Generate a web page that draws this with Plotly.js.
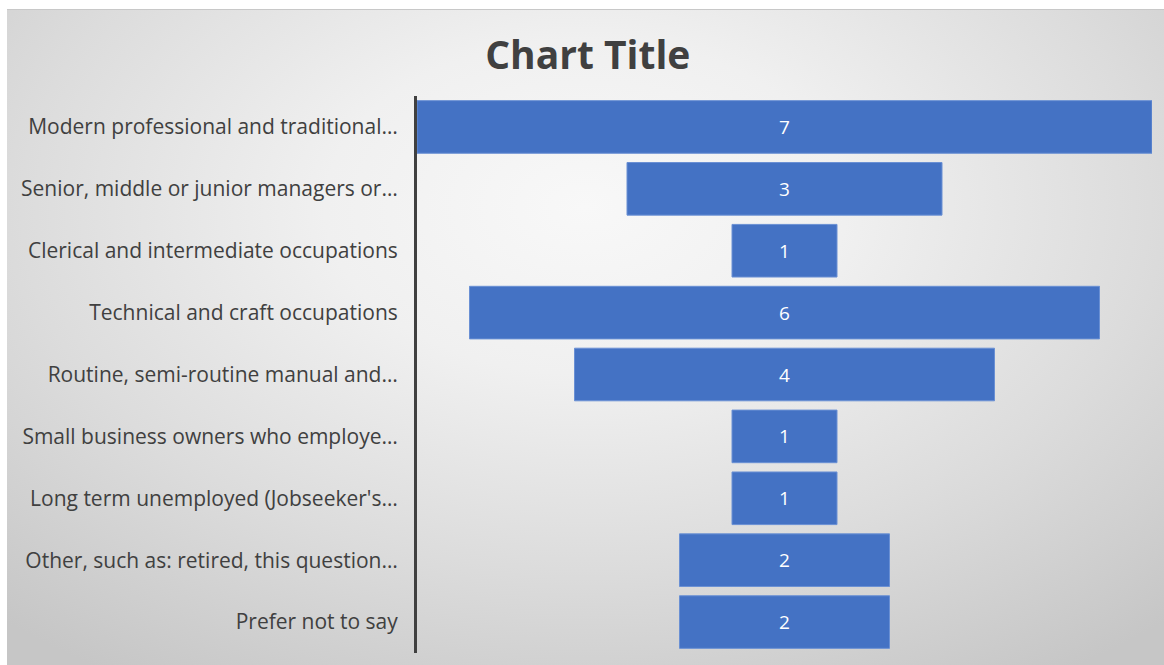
<!DOCTYPE html>
<html>
<head>
<meta charset="utf-8">
<script src="https://cdn.plot.ly/plotly-3.0.1.min.js"></script>
<style>
  html, body { margin: 0; padding: 0; background: #ffffff; }
  #wrap { position: relative; width: 1164px; height: 665px; overflow: hidden; }
  #bg { position: absolute; left: 7px; top: 9px; width: 1157px; height: 656px;
        border-top: 1px solid #c8c8c8;
        background: radial-gradient(ellipse 75% 85% at 50% 30%, #f8f8f8 0%, #f0f0f0 30%, #dcdcdc 65%, #c6c6c6 100%); }
  #chart { position: absolute; left: 0; top: 0; width: 1164px; height: 665px; }
</style>
</head>
<body>
<div id="wrap">
  <div id="bg"></div>
  <div id="chart"></div>
</div>
<script>
const categories = [
  "Modern professional and traditional…",
  "Senior, middle or junior managers or…",
  "Clerical and intermediate occupations",
  "Technical and craft occupations",
  "Routine, semi-routine manual and…",
  "Small business owners who employe…",
  "Long term unemployed (Jobseeker's…",
  "Other, such as: retired, this question…",
  "Prefer not to say"
];
const values = [7, 3, 1, 6, 4, 1, 1, 2, 2];

const trace = {
  type: "funnel",
  y: categories,
  x: values,
  orientation: "h",
  textinfo: "value",
  textposition: "inside",
  insidetextanchor: "middle",
  insidetextfont: { color: "#ffffff", size: 19, family: "Open Sans, Noto Sans, sans-serif" },
  marker: { color: "#4472C4", line: { color: "#6a90d4", width: 1 } },
  connector: { visible: false },
  hoverinfo: "y+x"
};

const layout = {
  width: 1164,
  height: 665,
  paper_bgcolor: "rgba(0,0,0,0)",
  plot_bgcolor: "rgba(0,0,0,0)",
  margin: { l: 417, r: 12, t: 96, b: 12, pad: 0 },
  title: {
    text: "<b>Chart Title</b>",
    x: 0.505, xanchor: "center",
    y: 0.917, yanchor: "middle",
    font: { size: 39, color: "#404040", family: "Open Sans, Noto Sans, sans-serif" }
  },
  funnelgap: 0.15,
  showlegend: false,
  xaxis: { visible: false, range: [-3.5, 3.5], fixedrange: true },
  yaxis: {
    showline: true, linecolor: "#404040", linewidth: 3,
    showgrid: false, zeroline: false,
    ticks: "", ticklabelstandoff: 12,
    tickfont: { size: 21, color: "#404040", family: "Open Sans, Noto Sans, sans-serif" },
    fixedrange: true
  }
};

Plotly.newPlot("chart", [trace], layout, { displayModeBar: false, staticPlot: true });
</script>
</body>
</html>
